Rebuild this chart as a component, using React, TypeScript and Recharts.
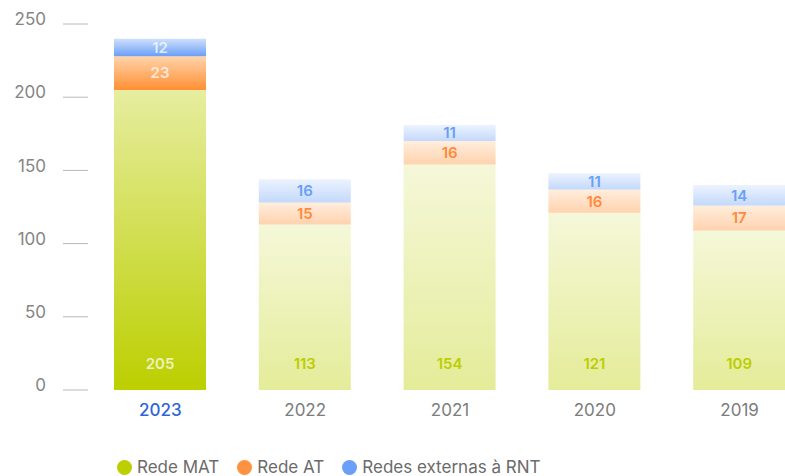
import { BarChart, Bar, XAxis, YAxis, Cell, LabelList, Legend } from 'recharts';

const years = ['2023', '2022', '2021', '2020', '2019'];
const redeMat = [205, 113, 154, 121, 109];
const redeAt = [23, 15, 16, 16, 17];
const redesExternas = [12, 16, 11, 11, 14];
const yTicks = [0, 50, 100, 150, 200, 250];

const FONT = 'Inter, "Noto Sans", sans-serif';

const SERIES = [
  { key: 'mat', name: 'Rede MAT', top: '#e6ed9f', bottom: '#bccf00', dot: '#bccf00', text: '#bccd00' },
  { key: 'at', name: 'Rede AT', top: '#ffd4aa', bottom: '#ff8f35', dot: '#ff9240', text: '#ff8a3a' },
  { key: 'ext', name: 'Redes externas à RNT', top: '#cfe0fd', bottom: '#6a9ff7', dot: '#6aa0f8', text: '#6a9ff7' },
];

const data = years.map((year, i) => ({
  year,
  mat: redeMat[i],
  at: redeAt[i],
  ext: redesExternas[i],
}));

// highlighted year is drawn in full colour, the others faded
const isCurrent = (i: number) => i === 0;

function makeLabel(color: string, atBottom: boolean) {
  return (props: any) => {
    const { x, y, width, height, value, index } = props;
    const cy = atBottom ? y + height - 26 : y + height / 2;
    return (
      <text
        x={x + width / 2}
        y={cy}
        dy="0.36em"
        textAnchor="middle"
        fontFamily={FONT}
        fontSize={15}
        fontWeight={600}
        fill={isCurrent(index) ? 'rgba(255,255,255,0.72)' : color}
      >
        {value}
      </text>
    );
  };
}

function YTick(props: any) {
  const { x, y, payload } = props;
  return (
    <text x={x} y={y - 5} dy="0.36em" textAnchor="end" fontFamily={FONT} fontSize={17} fill="#858585">
      {payload.value}
    </text>
  );
}

function XTick(props: any) {
  const { x, y, payload, index } = props;
  const current = isCurrent(index);
  return (
    <text
      x={x}
      y={y + 12}
      dy="0.36em"
      textAnchor="middle"
      fontFamily={FONT}
      fontSize={17}
      fontWeight={current ? 500 : 400}
      fill={current ? '#2f66d6' : '#7c7c7c'}
    >
      {payload.value}
    </text>
  );
}

function LegendContent() {
  return (
    <div style={{ display: 'flex', alignItems: 'center', fontFamily: FONT, fontSize: 17, color: '#6b6b6b', lineHeight: '17px' }}>
      {SERIES.map((s) => (
        <div key={s.key} style={{ display: 'flex', alignItems: 'center', marginRight: 18 }}>
          <span style={{ width: 15, height: 15, borderRadius: '50%', background: s.dot, marginRight: 5, display: 'inline-block' }} />
          <span>{s.name}</span>
        </div>
      ))}
    </div>
  );
}

export default function App() {
  return (
    <div style={{ position: 'absolute', left: 0, top: 0, width: 785, height: 476, overflow: 'hidden', background: '#fff' }}>
      <BarChart
        width={812}
        height={476}
        data={data}
        margin={{ top: 24, right: 0, bottom: 0, left: 0 }}
        barSize={92}
      >
        <defs>
          {SERIES.map((s) => (
            <linearGradient key={s.key} id={`grad-${s.key}`} x1="0" y1="0" x2="0" y2="1">
              <stop offset="0%" stopColor={s.top} />
              <stop offset="100%" stopColor={s.bottom} />
            </linearGradient>
          ))}
        </defs>
        <XAxis dataKey="year" height={86} axisLine={false} tickLine={false} tick={<XTick />} interval={0} />
        <YAxis
          width={88}
          domain={[0, 250]}
          ticks={yTicks}
          axisLine={false}
          tickLine={{ stroke: '#b8b8b8', strokeWidth: 1 }}
          tickSize={25}
          tickMargin={17}
          tick={<YTick />}
        />
        <Legend
          layout="horizontal"
          verticalAlign="middle"
          align="center"
          content={<LegendContent />}
          wrapperStyle={{ left: 117, top: 459, width: 'auto', height: 'auto', transform: 'none' }}
        />
        {SERIES.map((s, si) => (
          <Bar key={s.key} dataKey={s.key} name={s.name} stackId="a" fill={`url(#grad-${s.key})`} isAnimationActive={false}>
            {data.map((_, i) => (
              <Cell key={i} fill={`url(#grad-${s.key})`} fillOpacity={isCurrent(i) ? 1 : 0.4} />
            ))}
            <LabelList dataKey={s.key} content={makeLabel(s.text, si === 0)} />
          </Bar>
        ))}
      </BarChart>
    </div>
  );
}
